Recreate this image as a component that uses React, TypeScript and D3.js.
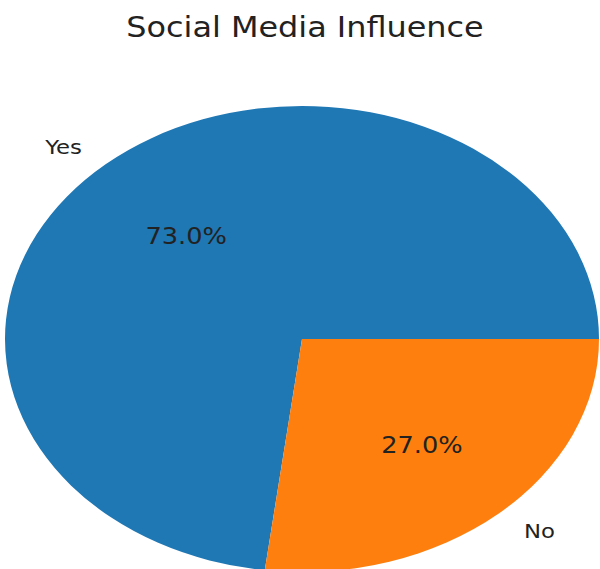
import React from "react";
import * as d3 from "d3";

const title = "Social Media Influence";
const categories = ["Yes", "No"];
const values = [73.0, 27.0];
const colors = ["#1f77b4", "#ff7f0e"];

const W = 600;
const H = 569;
const cx = 302;
const cy = 339;
const rx = 297;
const ry = 233;
const R = 100;
const stretch = 1.14;
const font = "'DejaVu Sans', sans-serif";

export default function App() {
  const pie = d3
    .pie<number>()
    .sort(null)
    .value((d) => d)
    .startAngle(Math.PI / 2)
    .endAngle(Math.PI / 2 - 2 * Math.PI);
  const arcs = pie(values);
  const arc = d3.arc<d3.PieArcDatum<number>>().innerRadius(0).outerRadius(R);

  return (
    <div style={{ position: "absolute", left: 0, top: 0 }}>
      <svg width={W} height={H} style={{ display: "block", background: "#fff" }}>
        <text
          x={0}
          y={0}
          transform={`translate(${305},${37}) scale(${1.16},1)`}
          textAnchor="middle"
          fontFamily={font}
          fontSize={27.5}
          fill="#222"
        >
          {title}
        </text>
        <g transform={`translate(${cx},${cy}) scale(${rx / R},${ry / R})`}>
          {arcs.map((a, i) => (
            <path key={i} d={arc(a) || ""} fill={colors[i]} />
          ))}
        </g>
        {arcs.map((a, i) => {
          const mid = (a.startAngle + a.endAngle) / 2;
          // d3 angle: clockwise from top
          const ux = Math.sin(mid);
          const uy = -Math.cos(mid);
          const lx = cx + 1.11 * ux * rx + (ux < 0 ? -2 : 4);
          const ly = cy + 1.1 * uy * ry;
          const px = cx + 0.6 * ux * rx + 2;
          const py = cy + 0.6 * uy * ry + 2;
          const pct = ((values[i] / d3.sum(values)) * 100).toFixed(1) + "%";
          return (
            <g key={i}>
              <text
                transform={`translate(${lx},${ly}) scale(${stretch},1)`}
                textAnchor={ux < 0 ? "end" : "start"}
                dominantBaseline="central"
                fontFamily={font}
                fontSize={20}
                fill="#222"
              >
                {categories[i]}
              </text>
              <text
                transform={`translate(${px},${py}) scale(${stretch},1)`}
                textAnchor="middle"
                dominantBaseline="central"
                fontFamily={font}
                fontSize={22.5}
                fill="#222"
              >
                {pct}
              </text>
            </g>
          );
        })}
      </svg>
    </div>
  );
}
